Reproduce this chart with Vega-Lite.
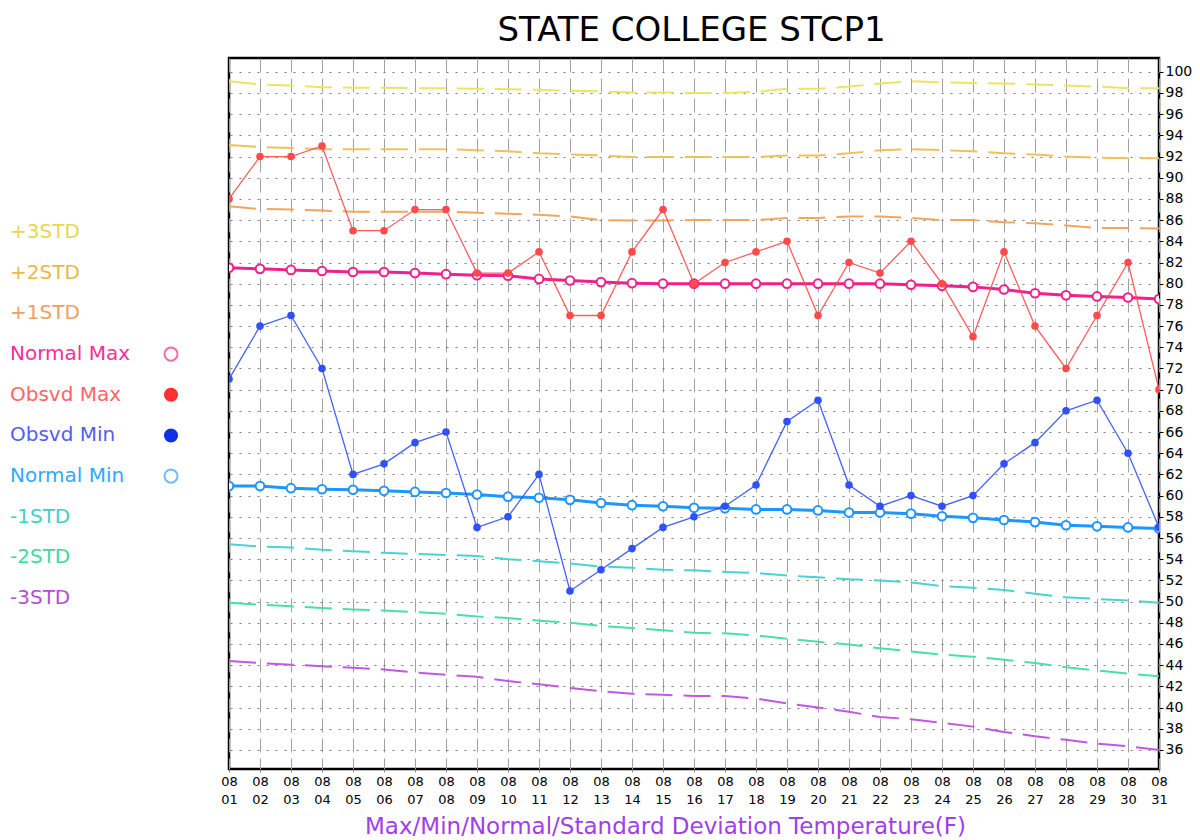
{
  "$schema": "https://vega.github.io/schema/vega-lite/v6.json",
  "padding": {"left": 0, "top": 13, "right": 0, "bottom": 0},
  "background": "white",
  "title": {"text": "STATE COLLEGE STCP1", "anchor": "middle", "dx": 95, "fontSize": 34, "font": "DejaVu Sans", "fontWeight": "normal", "color": "black", "offset": 9},
  "spacing": 29,
  "resolve": {"scale": {"color": "independent", "x": "independent", "y": "independent"}},
  "config": {"view": {"stroke": null}, "font": "DejaVu Sans"},
  "datasets": {
    "legend": [
      {"label": "+3STD", "row": 0},
      {"label": "+2STD", "row": 1},
      {"label": "+1STD", "row": 2},
      {"label": "Normal Max", "row": 3},
      {"label": "Obsvd Max", "row": 4},
      {"label": "Obsvd Min", "row": 5},
      {"label": "Normal Min", "row": 6},
      {"label": "-1STD", "row": 7},
      {"label": "-2STD", "row": 8},
      {"label": "-3STD", "row": 9}
    ],
    "days": [
      {"day": 1, "omax": 88, "nmax": 81.5, "omin": 71, "nmin": 60.9, "p3": 99.1, "p2": 93.1, "p1": 87.3, "m1": 55.4, "m2": 49.9, "m3": 44.4},
      {"day": 2, "omax": 92, "nmax": 81.4, "omin": 76, "nmin": 60.9, "p3": 98.8, "p2": 92.9, "p1": 87.05, "m1": 55.2, "m2": 49.7, "m3": 44.2},
      {"day": 3, "omax": 92, "nmax": 81.3, "omin": 77, "nmin": 60.7, "p3": 98.7, "p2": 92.8, "p1": 87.0, "m1": 55.1, "m2": 49.55, "m3": 44.05},
      {"day": 4, "omax": 93, "nmax": 81.2, "omin": 72, "nmin": 60.6, "p3": 98.55, "p2": 92.7, "p1": 86.9, "m1": 54.9, "m2": 49.4, "m3": 43.9},
      {"day": 5, "omax": 85, "nmax": 81.1, "omin": 62, "nmin": 60.55, "p3": 98.5, "p2": 92.7, "p1": 86.8, "m1": 54.75, "m2": 49.25, "m3": 43.75},
      {"day": 6, "omax": 85, "nmax": 81.1, "omin": 63, "nmin": 60.45, "p3": 98.5, "p2": 92.7, "p1": 86.8, "m1": 54.6, "m2": 49.15, "m3": 43.6},
      {"day": 7, "omax": 87, "nmax": 81.0, "omin": 65, "nmin": 60.35, "p3": 98.45, "p2": 92.7, "p1": 86.8, "m1": 54.5, "m2": 49.0, "m3": 43.3},
      {"day": 8, "omax": 87, "nmax": 80.9, "omin": 66, "nmin": 60.25, "p3": 98.45, "p2": 92.7, "p1": 86.8, "m1": 54.4, "m2": 48.85, "m3": 43.1},
      {"day": 9, "omax": 81, "nmax": 80.8, "omin": 57, "nmin": 60.1, "p3": 98.4, "p2": 92.6, "p1": 86.7, "m1": 54.3, "m2": 48.6, "m3": 42.9},
      {"day": 10, "omax": 81, "nmax": 80.75, "omin": 58, "nmin": 59.9, "p3": 98.35, "p2": 92.5, "p1": 86.6, "m1": 54.0, "m2": 48.45, "m3": 42.5},
      {"day": 11, "omax": 83, "nmax": 80.45, "omin": 62, "nmin": 59.8, "p3": 98.3, "p2": 92.3, "p1": 86.5, "m1": 53.8, "m2": 48.2, "m3": 42.2},
      {"day": 12, "omax": 77, "nmax": 80.3, "omin": 51, "nmin": 59.6, "p3": 98.2, "p2": 92.2, "p1": 86.35, "m1": 53.6, "m2": 48.0, "m3": 41.85},
      {"day": 13, "omax": 77, "nmax": 80.15, "omin": 53, "nmin": 59.3, "p3": 98.15, "p2": 92.1, "p1": 86.0, "m1": 53.3, "m2": 47.7, "m3": 41.55},
      {"day": 14, "omax": 83, "nmax": 80.05, "omin": 55, "nmin": 59.1, "p3": 98.05, "p2": 91.95, "p1": 85.97, "m1": 53.2, "m2": 47.5, "m3": 41.3},
      {"day": 15, "omax": 87, "nmax": 80.0, "omin": 57, "nmin": 59.0, "p3": 98.05, "p2": 91.95, "p1": 85.97, "m1": 53.0, "m2": 47.3, "m3": 41.2},
      {"day": 16, "omax": 80, "nmax": 80.0, "omin": 58, "nmin": 58.85, "p3": 98.0, "p2": 91.95, "p1": 86.0, "m1": 52.95, "m2": 47.05, "m3": 41.1},
      {"day": 17, "omax": 82, "nmax": 80.0, "omin": 59, "nmin": 58.8, "p3": 98.0, "p2": 91.95, "p1": 86.0, "m1": 52.8, "m2": 47.0, "m3": 41.1},
      {"day": 18, "omax": 83, "nmax": 80.0, "omin": 61, "nmin": 58.7, "p3": 98.1, "p2": 91.95, "p1": 86.0, "m1": 52.7, "m2": 46.8, "m3": 40.85},
      {"day": 19, "omax": 84, "nmax": 80.0, "omin": 67, "nmin": 58.7, "p3": 98.4, "p2": 92.1, "p1": 86.2, "m1": 52.45, "m2": 46.5, "m3": 40.4},
      {"day": 20, "omax": 77, "nmax": 80.0, "omin": 69, "nmin": 58.6, "p3": 98.4, "p2": 92.1, "p1": 86.2, "m1": 52.3, "m2": 46.2, "m3": 40.0},
      {"day": 21, "omax": 82, "nmax": 80.0, "omin": 61, "nmin": 58.4, "p3": 98.6, "p2": 92.3, "p1": 86.35, "m1": 52.1, "m2": 45.95, "m3": 39.6},
      {"day": 22, "omax": 81, "nmax": 80.0, "omin": 59, "nmin": 58.4, "p3": 98.9, "p2": 92.6, "p1": 86.35, "m1": 52.0, "m2": 45.6, "m3": 39.1},
      {"day": 23, "omax": 84, "nmax": 79.9, "omin": 60, "nmin": 58.3, "p3": 99.1, "p2": 92.7, "p1": 86.2, "m1": 51.8, "m2": 45.3, "m3": 38.9},
      {"day": 24, "omax": 80, "nmax": 79.8, "omin": 59, "nmin": 58.05, "p3": 99.0, "p2": 92.6, "p1": 86.0, "m1": 51.45, "m2": 45.0, "m3": 38.55},
      {"day": 25, "omax": 75, "nmax": 79.7, "omin": 60, "nmin": 57.9, "p3": 98.95, "p2": 92.5, "p1": 86.0, "m1": 51.3, "m2": 44.8, "m3": 38.2},
      {"day": 26, "omax": 83, "nmax": 79.45, "omin": 63, "nmin": 57.7, "p3": 98.9, "p2": 92.3, "p1": 85.8, "m1": 51.1, "m2": 44.5, "m3": 37.7},
      {"day": 27, "omax": 76, "nmax": 79.1, "omin": 65, "nmin": 57.5, "p3": 98.8, "p2": 92.2, "p1": 85.7, "m1": 50.75, "m2": 44.2, "m3": 37.3},
      {"day": 28, "omax": 72, "nmax": 78.9, "omin": 68, "nmin": 57.2, "p3": 98.7, "p2": 92.0, "p1": 85.5, "m1": 50.4, "m2": 43.8, "m3": 36.95},
      {"day": 29, "omax": 77, "nmax": 78.8, "omin": 69, "nmin": 57.1, "p3": 98.6, "p2": 91.9, "p1": 85.25, "m1": 50.25, "m2": 43.5, "m3": 36.6},
      {"day": 30, "omax": 82, "nmax": 78.7, "omin": 64, "nmin": 57.0, "p3": 98.45, "p2": 91.85, "p1": 85.25, "m1": 50.1, "m2": 43.2, "m3": 36.35},
      {"day": 31, "omax": 70, "nmax": 78.55, "omin": 57, "nmin": 56.9, "p3": 98.45, "p2": 91.85, "p1": 85.2, "m1": 49.9, "m2": 42.95, "m3": 36.0}
    ]
  },
  "hconcat": [
    {
      "width": 190,
      "height": 711,
      "data": {"name": "legend"},
      "layer": [
        {
          "mark": {"type": "text", "align": "left", "baseline": "middle", "fontSize": 20, "font": "DejaVu Sans"},
          "encoding": {
            "x": {"datum": 0, "type": "quantitative", "scale": {"domain": [-0.0621, 1.118], "nice": false, "zero": false}, "axis": null},
            "y": {"field": "row", "type": "quantitative", "scale": {"domain": [-4.28, 13.2], "nice": false, "zero": false, "reverse": true}, "axis": null},
            "text": {"field": "label"},
            "color": {"field": "label", "type": "nominal", "legend": null,
              "scale": {"domain": ["+3STD", "+2STD", "+1STD", "Normal Max", "Obsvd Max", "Obsvd Min", "Normal Min", "-1STD", "-2STD", "-3STD"],
                        "range": ["#E6D84A", "#E8B848", "#F0A060", "#F0309A", "#FF6464", "#5060F0", "#30A8FF", "#40D0C8", "#40D8A0", "#B050D8"]}}
          }
        },
        {
          "transform": [{"filter": {"field": "label", "oneOf": ["Normal Max", "Normal Min"]}}],
          "mark": {"type": "point", "shape": "circle", "filled": false, "fill": "white", "strokeWidth": 2, "size": 170},
          "encoding": {
            "x": {"datum": 1, "type": "quantitative", "scale": {"domain": [-0.0621, 1.118], "nice": false, "zero": false}, "axis": null},
            "y": {"field": "row", "type": "quantitative", "scale": {"domain": [-4.28, 13.2], "nice": false, "zero": false, "reverse": true}, "axis": null},
            "stroke": {"field": "label", "type": "nominal", "legend": null, "scale": {"domain": ["Normal Max", "Normal Min"], "range": ["#F0307A", "#30A0FF"]}}
          }
        },
        {
          "transform": [{"filter": {"field": "label", "oneOf": ["Obsvd Max", "Obsvd Min"]}}],
          "mark": {"type": "point", "shape": "circle", "filled": true, "opacity": 1, "size": 200},
          "encoding": {
            "x": {"datum": 1, "type": "quantitative", "scale": {"domain": [-0.0621, 1.118], "nice": false, "zero": false}, "axis": null},
            "y": {"field": "row", "type": "quantitative", "scale": {"domain": [-4.28, 13.2], "nice": false, "zero": false, "reverse": true}, "axis": null},
            "fill": {"field": "label", "type": "nominal", "legend": null, "scale": {"domain": ["Obsvd Max", "Obsvd Min"], "range": ["#FF3030", "#1030E8"]}}
          }
        }
      ]
    },
    {
      "width": 930,
      "height": 711,
      "view": {"stroke": "black", "strokeWidth": 2.5},
      "data": {"name": "days"},
      "transform": [{"fold": ["p3", "p2", "p1", "m1", "m2", "m3", "nmax", "nmin", "omax", "omin"], "as": ["series", "temp"]}],
      "encoding": {
        "x": {
          "field": "day", "type": "quantitative",
          "scale": {"domain": [1, 31], "nice": false, "zero": false},
          "axis": {
            "values": [1,2,3,4,5,6,7,8,9,10,11,12,13,14,15,16,17,18,19,20,21,22,23,24,25,26,27,28,29,30,31],
            "labelExpr": "['08', (datum.value < 10 ? '0' : '') + datum.value]",
            "labelFontSize": 13, "labelLineHeight": 18, "labelPadding": 3, "labelColor": "black",
            "labelFont": "DejaVu Sans", "labelFlush": false, "labelOverlap": false, "labelBound": false,
            "grid": true, "gridDash": [14, 6], "gridColor": "#a0a0a0", "gridWidth": 1,
            "domain": false, "ticks": true, "tickSize": 3, "tickColor": "#888888",
            "title": "Max/Min/Normal/Standard Deviation Temperature(F)",
            "titleColor": "#A040E8", "titleFontSize": 23, "titleFontWeight": "normal", "titleFont": "DejaVu Sans",
            "titlePadding": 9, "titleX": 436
          }
        },
        "y": {
          "field": "temp", "type": "quantitative",
          "scale": {"domain": [34.2, 101.3], "nice": false, "zero": false},
          "axis": {
            "orient": "right",
            "values": [36,38,40,42,44,46,48,50,52,54,56,58,60,62,64,66,68,70,72,74,76,78,80,82,84,86,88,90,92,94,96,98,100],
            "grid": true, "gridDash": [2, 7], "gridColor": "#7a7a7a", "gridWidth": 1,
            "domain": false, "tickColor": "black", "tickSize": 4, "labelOverlap": false, "labelFlush": false, "labelBound": false,
            "labelFontSize": 14, "labelColor": "black", "labelPadding": 2, "labelFont": "DejaVu Sans",
            "title": null
          }
        },
        "color": {"field": "series", "type": "nominal", "legend": null,
          "scale": {"domain": ["p3", "p2", "p1", "m1", "m2", "m3", "nmax", "nmin", "omax", "omin"],
                    "range": ["#EEE460", "#EFC15A", "#F2A55E", "#48D4D0", "#48E0A8", "#C058E0", "#F0208C", "#1E96FF", "#FF4A4A", "#2F50FA"]}}
      },
      "layer": [
        {
          "transform": [{"filter": {"field": "series", "oneOf": ["p3", "p2", "p1", "m1", "m2", "m3"]}}],
          "mark": {"type": "line", "strokeDash": [27, 11], "strokeWidth": 2, "clip": true}
        },
        {
          "transform": [{"filter": {"field": "series", "oneOf": ["nmax", "nmin"]}}],
          "mark": {"type": "line", "strokeWidth": 3, "clip": true}
        },
        {
          "transform": [{"filter": {"field": "series", "oneOf": ["nmax", "nmin"]}}],
          "mark": {"type": "point", "shape": "circle", "filled": false, "fill": "white", "strokeWidth": 2, "size": 75, "opacity": 1, "clip": true}
        },
        {
          "transform": [{"filter": {"field": "series", "oneOf": ["omax", "omin"]}}],
          "mark": {"type": "line", "strokeWidth": 1.3, "opacity": 0.9, "clip": true}
        },
        {
          "transform": [{"filter": {"field": "series", "oneOf": ["omax", "omin"]}}],
          "mark": {"type": "point", "shape": "circle", "filled": true, "size": 58, "opacity": 1, "clip": true}
        }
      ]
    }
  ]
}
